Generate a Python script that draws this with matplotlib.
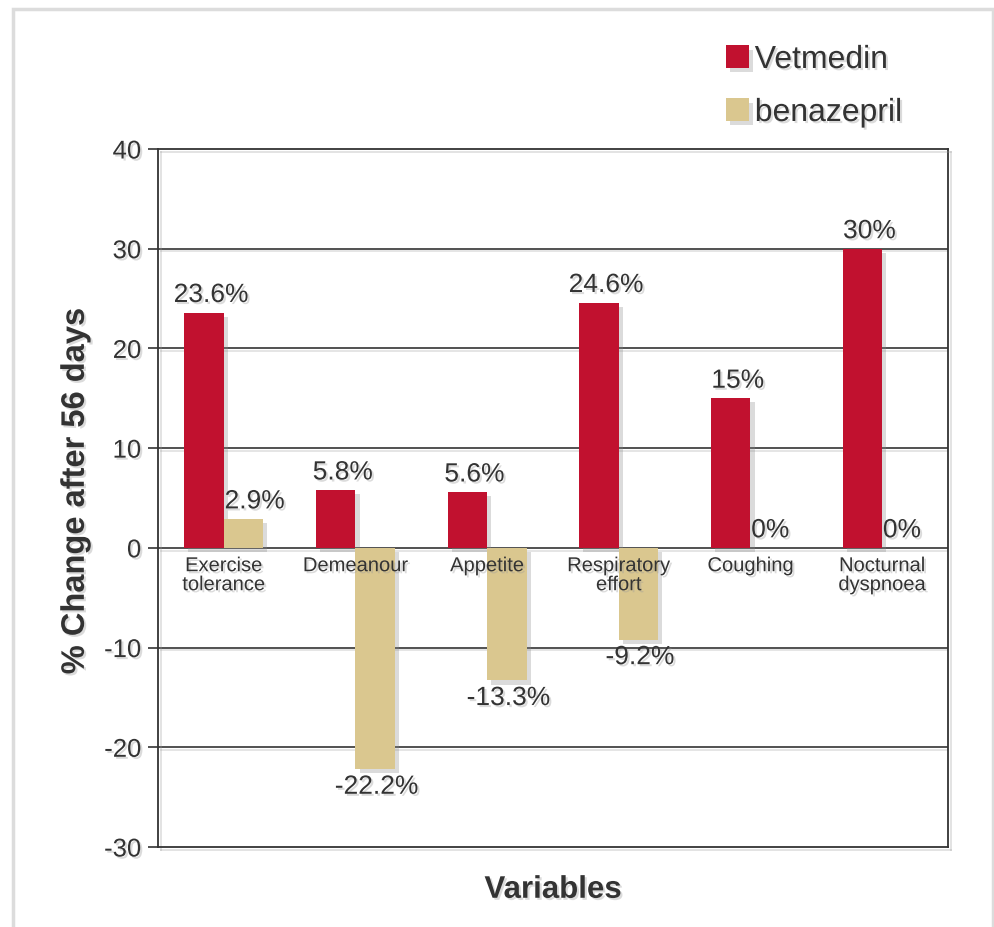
import numpy as np
import matplotlib
matplotlib.use("Agg")
import matplotlib.pyplot as plt
import matplotlib.patheffects as pe
from matplotlib.patches import Rectangle

# data
categories = ["Exercise\ntolerance", "Demeanour", "Appetite",
              "Respiratory\neffort", "Coughing", "Nocturnal\ndyspnoea"]
vetmedin = [23.6, 5.8, 5.6, 24.6, 15.0, 30.0]
benazepril = [2.9, -22.2, -13.3, -9.2, 0.0, 0.0]
vet_labels = ["23.6%", "5.8%", "5.6%", "24.6%", "15%", "30%"]
ben_labels = ["2.9%", "-22.2%", "-13.3%", "-9.2%", "0%", "0%"]
y_ticks = [-30, -20, -10, 0, 10, 20, 30, 40]

RED = "#C1112F"
TAN = "#DAC78F"
TXT = "#333333"

plt.rcParams['font.family'] = ['Liberation Sans', 'DejaVu Sans']
plt.rcParams['axes.unicode_minus'] = False

bar_shadow = [pe.SimplePatchShadow(offset=(3, -3), shadow_rgbFace="#888888", alpha=0.3), pe.Normal()]
txt_shadow = [pe.SimplePatchShadow(offset=(1.5, -1.5), shadow_rgbFace="#999999", alpha=0.35), pe.Normal()]
line_shadow = [pe.SimpleLineShadow(offset=(2, -2), shadow_color="#999999", alpha=0.3), pe.Normal()]

fig = plt.figure(figsize=(9.95, 9.28), dpi=100)
fig.patch.set_facecolor("white")

# outer frame
frame = Rectangle((13 / 995, -0.02), 980 / 995, 1 - 10 / 928 + 0.02, transform=fig.transFigure,
                  facecolor="none", edgecolor="#dcdcdc", lw=2.5)
fig.add_artist(frame)

ax = fig.add_axes([158 / 995, 1 - 848 / 928, 790 / 995, 698 / 928])

x = np.arange(len(categories))
w = 0.3
b1 = ax.bar(x - w / 2, vetmedin, w, color=RED, label="Vetmedin", zorder=3)
b2 = ax.bar(x + w / 2, benazepril, w, color=TAN, label="benazepril", zorder=3)
for b in list(b1) + list(b2):
    b.set_path_effects(bar_shadow)

ax.set_xlim(-0.5, len(categories) - 0.5)
ax.set_ylim(-30, 40)
ax.set_yticks(y_ticks)
ax.set_xticks([])
ax.tick_params(axis='y', length=7, width=1.2, direction='out', color=TXT,
               labelsize=18.5, labelcolor=TXT, pad=5)
for lab in ax.get_yticklabels():
    lab.set_path_effects(txt_shadow)

for s in ax.spines.values():
    s.set_color(TXT)
    s.set_linewidth(1.3)
    s.set_path_effects(line_shadow)

for yv in y_ticks[1:-1]:
    ax.axhline(yv, color=TXT, lw=1.2, zorder=1, path_effects=line_shadow)

# value labels
for i in range(len(categories)):
    ax.annotate(vet_labels[i], (x[i] - w / 2, vetmedin[i]), xytext=(5, 4),
                textcoords="offset points", ha="center", va="bottom",
                fontsize=19, color=TXT, path_effects=txt_shadow, zorder=5)
    if benazepril[i] > 0:
        ax.annotate(ben_labels[i], (x[i] + w / 2, benazepril[i]), xytext=(8, 4),
                    textcoords="offset points", ha="center", va="bottom",
                    fontsize=19, color=TXT, path_effects=txt_shadow, zorder=5)
    elif benazepril[i] == 0:
        ax.annotate(ben_labels[i], (x[i] + w / 2, benazepril[i]), xytext=(0, 4),
                    textcoords="offset points", ha="center", va="bottom",
                    fontsize=19, color=TXT, path_effects=txt_shadow, zorder=5)
    else:
        ax.annotate(ben_labels[i], (x[i] + w / 2, benazepril[i]), xytext=(1, -4),
                    textcoords="offset points", ha="center", va="top",
                    fontsize=19, color=TXT, path_effects=txt_shadow, zorder=5)

# category labels sit inside the plot just under the zero line
for i, c in enumerate(categories):
    ax.annotate(c, (x[i], 0), xytext=(0, -6), textcoords="offset points",
                ha="center", va="top", fontsize=14.5, color=TXT,
                linespacing=1.0, path_effects=txt_shadow, zorder=4)

ax.set_xlabel("Variables", fontsize=22.5, fontweight="bold", color=TXT, labelpad=20)
ax.set_ylabel("% Change after 56 days", fontsize=23.5, fontweight="bold", color=TXT)
ax.yaxis.set_label_coords(-0.085, 0.51)
ax.xaxis.label.set_path_effects(txt_shadow)
ax.yaxis.label.set_path_effects(txt_shadow)

leg = ax.legend(loc="upper left", bbox_to_anchor=(726 / 995, 1 - 46 / 928),
                bbox_transform=fig.transFigure, frameon=False, fontsize=23,
                handlelength=0.72, handleheight=0.72, handletextpad=0.18,
                labelspacing=0.72, borderaxespad=0, borderpad=0)
for t in leg.get_texts():
    t.set_color(TXT)
    t.set_path_effects(txt_shadow)

fig.savefig("out.png", dpi=100, facecolor="white")
